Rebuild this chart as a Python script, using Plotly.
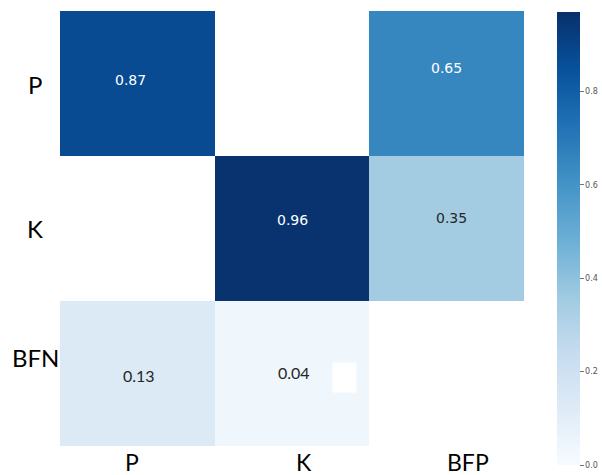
import plotly.graph_objects as go

# Correlation-style matrix; blank cells are masked (None)
rows = ["P", "K", "BFN"]
cols = ["P", "K", "BFP"]
values = [
    [0.87, None, 0.65],
    [None, 0.96, 0.35],
    [0.13, 0.04, None],
]
cbar_ticks = [0.0, 0.2, 0.4, 0.6, 0.8]

# per-cell text placement tweaks (pixels) and fonts
text_shift = {
    (0, 0): (-7, 4), (0, 2): (0, 16),
    (1, 1): (0, 9), (1, 2): (5, 11),
    (2, 0): (2, -2), (2, 1): (2, 1),
}
light_font = {(2, 0), (2, 1)}

fig = go.Figure()
fig.add_trace(go.Heatmap(
    z=values, x=cols, y=rows,
    colorscale="Blues", zmin=0, zmax=0.97,
    hoverinfo="skip",
    colorbar=dict(
        x=(557 - 60) / 464, xanchor="left", xpad=0,
        y=(446 - 12) / 435, yanchor="top", ypad=0,
        lenmode="pixels", len=453, thickness=23,
        outlinewidth=0,
        tickvals=cbar_ticks, ticktext=[f"{t:.1f}" for t in cbar_ticks],
        ticks="outside", ticklen=4, tickwidth=1, tickcolor="#777",
        tickfont=dict(family="DejaVu Sans", size=8, color="#555"),
    ),
))

annotations = []
for i, r in enumerate(rows):
    for j, c in enumerate(cols):
        v = values[i][j]
        if v is None:
            continue
        dx, dy = text_shift.get((i, j), (0, 0))
        color = "white" if v > 0.5 else "#262626"
        fam, size = ("Lato", 16) if (i, j) in light_font else ("DejaVu Sans", 14)
        annotations.append(dict(
            x=c, y=r, xref="x", yref="y", text=f"{v:.2f}", showarrow=False,
            xshift=dx, yshift=dy, font=dict(family=fam, size=size, color=color),
        ))

# axis labels
row_label_shift = [(-1), (0), (16)]
for r, dy in zip(rows, row_label_shift):
    annotations.append(dict(
        x=(35 - 60) / 464, xref="paper", xanchor="center", y=r, yref="y",
        yshift=dy, text=r, showarrow=False,
        font=dict(family="Lato", size=24, color="black"),
    ))
col_label_shift = [-5, 12, 21]
for c, dx in zip(cols, col_label_shift):
    annotations.append(dict(
        x=c, xref="x", xshift=dx, y=-(462 - 446) / 435, yref="paper",
        yanchor="middle", text=c, showarrow=False,
        font=dict(family="Lato", size=23, color="black"),
    ))

fig.update_layout(
    width=602, height=475,
    margin=dict(l=60, r=78, t=11, b=29, autoexpand=False),
    paper_bgcolor="white", plot_bgcolor="white",
    annotations=annotations,
    xaxis=dict(showticklabels=False, showgrid=False, zeroline=False, ticks=""),
    yaxis=dict(showticklabels=False, showgrid=False, zeroline=False, ticks="",
               autorange="reversed"),
    shapes=[dict(type="rect", xref="x", yref="y", x0=1.261, x1=1.416,
                 y0=1.924, y1=2.132, fillcolor="white", line=dict(width=0))],
)

fig.write_html("out.html")
